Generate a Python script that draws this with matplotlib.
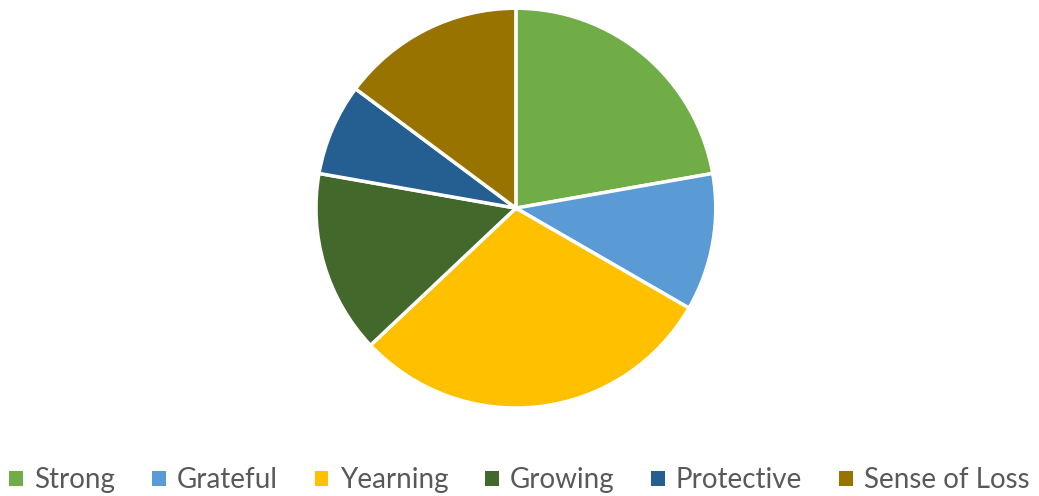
import matplotlib
matplotlib.use("Agg")
import matplotlib.pyplot as plt
from matplotlib.patches import Patch

categories = ["Strong", "Grateful", "Yearning", "Growing", "Protective", "Sense of Loss"]
values = [6, 3, 8, 4, 2, 4]
colors = ["#70AD47", "#5B9BD5", "#FFC000", "#43682B", "#255E91", "#997300"]

plt.rcParams['font.family'] = ['Lato', 'DejaVu Sans']
fig = plt.figure(figsize=(10.39, 4.96), dpi=100)
ax = fig.add_axes([0.304, 0.1774, 0.385, 0.806])
ax.pie(values, colors=colors, startangle=90, counterclock=False,
       wedgeprops=dict(edgecolor="white", linewidth=2.5))
ax.set_xlim(-1.0, 1.0)
ax.set_ylim(-1.0, 1.0)
ax.set_aspect("equal")

handles = [Patch(facecolor=c, edgecolor="none") for c in colors]
fig.legend(handles, categories, loc="lower center", bbox_to_anchor=(0.5, -0.045), ncol=6,
           frameon=False, fontsize=20, labelcolor="#595959",
           handlelength=0.5, handleheight=0.5, handletextpad=0.4, columnspacing=1.32)

fig.savefig("out.png", dpi=100, facecolor="white")
